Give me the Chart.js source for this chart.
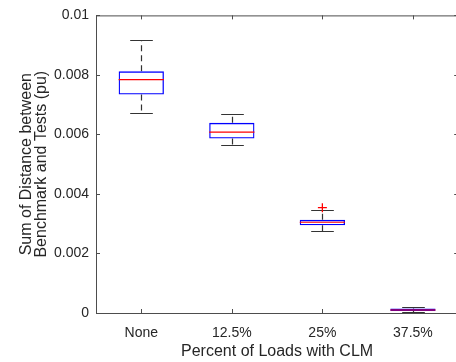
<!DOCTYPE html>
<html>
<head>
<meta charset="utf-8">
<script src="https://cdn.jsdelivr.net/npm/chart.js@4.4.1/dist/chart.umd.min.js"></script>
<style>
html,body{margin:0;padding:0;background:#fff;overflow:hidden;}
#wrap{position:relative;width:464px;height:362px;}
</style>
</head>
<body>
<div id="wrap"><canvas id="c"></canvas></div>
<script>
const categories = ['None', '12.5%', '25%', '37.5%'];
const whiskerHigh = [0.00916, 0.00669, 0.00345, 0.00019];
const q3 = [0.00812, 0.00639, 0.00313, 0.00015];
const medians = [0.00784, 0.00608, 0.00305, 0.00010];
const q1 = [0.00734, 0.00586, 0.00295, 0.00007];
const whiskerLow = [0.00672, 0.00566, 0.00274, 0.00003];
const outliers = [null, null, 0.00354, null];
const yTickValues = [0, 0.002, 0.004, 0.006, 0.008, 0.01];
const yTickLabels = ['0', '0.002', '0.004', '0.006', '0.008', '0.01'];
const xTitle = 'Percent of Loads with CLM';
const yTitle = ['Sum of Distance between', 'Benchmark and Tests (pu)'];

const FONT = '"Liberation Sans", Arial, sans-serif';
const AXIS = '#4d4d4d';

const boxPlugin = {
  id: 'boxParts',
  beforeDatasetsDraw(chart) {
    const {ctx, chartArea: a, scales: {x, y}} = chart;
    ctx.save();
    ctx.lineWidth = 1;
    ctx.strokeStyle = AXIS;
    // frame top & right
    ctx.beginPath();
    ctx.moveTo(a.left, a.top + 0.5); ctx.lineTo(a.right, a.top + 0.5);
    ctx.moveTo(a.right - 0.5, a.top); ctx.lineTo(a.right - 0.5, a.bottom);
    ctx.stroke();
    // inward ticks
    const tl = 4;
    ctx.beginPath();
    yTickValues.forEach(v => {
      const py = Math.round(y.getPixelForValue(v)) + 0.5;
      ctx.moveTo(a.left, py); ctx.lineTo(a.left + tl, py);
      ctx.moveTo(a.right, py); ctx.lineTo(a.right - tl, py);
    });
    categories.forEach((c, i) => {
      const px = Math.round(x.getPixelForValue(i)) + 0.5;
      ctx.moveTo(px, a.bottom); ctx.lineTo(px, a.bottom - tl);
      ctx.moveTo(px, a.top); ctx.lineTo(px, a.top + tl);
    });
    ctx.stroke();
    // whiskers
    const step = x.getPixelForValue(1) - x.getPixelForValue(0);
    ctx.strokeStyle = '#333';
    ctx.lineWidth = 1.2;
    categories.forEach((c, i) => {
      const px = Math.round(x.getPixelForValue(i)) + 0.5;
      ctx.setLineDash([6, 4]);
      ctx.beginPath();
      ctx.moveTo(px, y.getPixelForValue(q3[i])); ctx.lineTo(px, y.getPixelForValue(whiskerHigh[i]));
      ctx.moveTo(px, y.getPixelForValue(q1[i])); ctx.lineTo(px, y.getPixelForValue(whiskerLow[i]));
      ctx.stroke();
      ctx.setLineDash([]);
      const hw = step * 0.125;
      ctx.beginPath();
      [whiskerHigh[i], whiskerLow[i]].forEach(v => {
        const py = Math.round(y.getPixelForValue(v)) + 0.5;
        ctx.moveTo(px - hw, py); ctx.lineTo(px + hw, py);
      });
      ctx.stroke();
    });
    ctx.restore();
  },
  afterDatasetsDraw(chart) {
    const {ctx, scales: {x, y}} = chart;
    const step = x.getPixelForValue(1) - x.getPixelForValue(0);
    ctx.save();
    ctx.strokeStyle = '#ff0000';
    ctx.lineWidth = 1.2;
    categories.forEach((c, i) => {
      const px = x.getPixelForValue(i);
      const hw = step * 0.25;
      const py = y.getPixelForValue(medians[i]);
      ctx.beginPath();
      ctx.moveTo(px - hw, py); ctx.lineTo(px + hw, py);
      ctx.stroke();
    });
    ctx.restore();
  }
};

new Chart(document.getElementById('c'), {
  type: 'bar',
  data: {
    labels: categories,
    datasets: [
      {
        type: 'bar',
        data: categories.map((c, i) => [q1[i], q3[i]]),
        backgroundColor: 'rgba(0,0,0,0)',
        borderColor: '#0000ff',
        borderWidth: 1.3,
        borderSkipped: false,
        categoryPercentage: 1,
        barPercentage: 0.5,
        order: 2
      },
      {
        type: 'line',
        data: outliers,
        showLine: false,
        pointStyle: 'cross',
        pointRadius: 4.5,
        pointBorderColor: '#ff0000',
        pointBorderWidth: 1.3,
        pointBackgroundColor: '#ff0000',
        order: 1
      }
    ]
  },
  options: {
    responsive: true,
    maintainAspectRatio: false,
    animation: false,
    events: [],
    layout: {padding: {top: 13, right: 4, left: 0, bottom: 0}},
    plugins: {legend: {display: false}, tooltip: {enabled: false}},
    scales: {
      x: {
        offset: true,
        grid: {display: true, drawOnChartArea: false, drawTicks: false},
        border: {display: true, color: AXIS, width: 1},
        ticks: {color: '#262626', padding: 12, font: {family: FONT, size: 14}, maxRotation: 0},
        title: {display: true, text: xTitle, color: '#262626', font: {family: FONT, size: 16}, padding: {top: 0, bottom: 1}},
        afterFit(s) { s.height = 49; }
      },
      y: {
        min: 0, max: 0.01,
        grid: {display: true, drawOnChartArea: false, drawTicks: false},
        border: {display: true, color: AXIS, width: 1},
        afterBuildTicks(s) { s.ticks = yTickValues.map(v => ({value: v})); },
        ticks: {
          color: '#262626', padding: 7, font: {family: FONT, size: 14},
          callback: (v) => yTickLabels[yTickValues.indexOf(v)] ?? ''
        },
        title: {display: true, text: yTitle, color: '#262626', font: {family: FONT, size: 16, lineHeight: 0.95}, padding: {top: 19, bottom: 0}},
        afterFit(s) { s.width = 96; }
      }
    }
  },
  plugins: [boxPlugin]
});
</script>
</body>
</html>
